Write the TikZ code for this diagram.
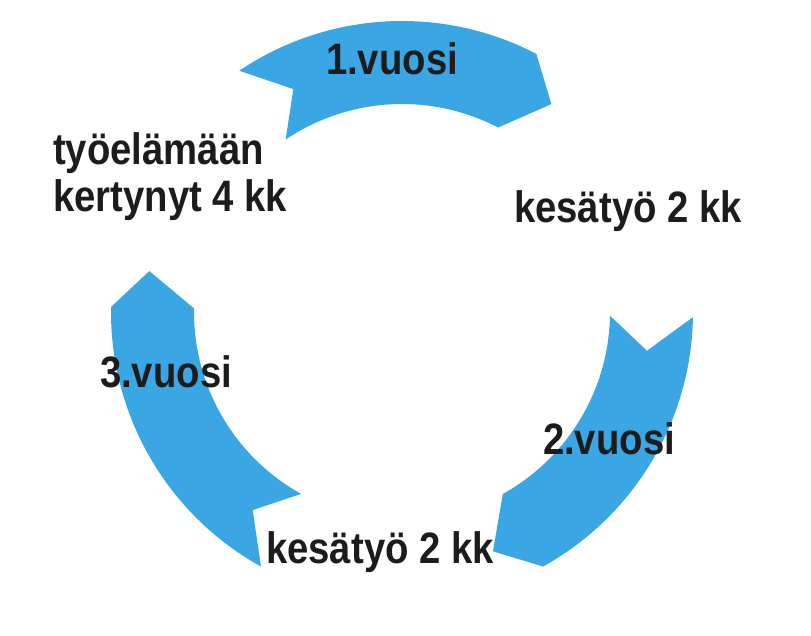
\documentclass[tikz,border=0pt]{standalone}
\usepackage{fontspec}
\newfontfamily\lblfont{Liberation Sans}[FakeStretch=0.87]
\usepackage{tikz}
\definecolor{cycleblue}{RGB}{58,167,228}
\definecolor{inkdark}{RGB}{28,28,28}

\begin{document}
\begin{tikzpicture}[x=1pt, y=1pt,
  every node/.style={font=\lblfont\bfseries\fontsize{44}{48}\selectfont, text=inkdark, inner sep=0pt},
  cyclearrow/.style={fill=cycleblue, draw=none}]
  \useasboundingbox (0,0) rectangle (811,635);

  % Arrows round the cycle (tail angle / head angle)
  \begin{scope}[shift={(402,323)}]
    \foreach \t/\h in {124/62.5, -1/-61, 241/179}
      \fill[cyclearrow] (\t:291) arc[start angle=\t, end angle=\h, radius=291]
        -- ({\h-8.2}:256) -- (\h:208)
        arc[start angle=\h, end angle=\t, radius=208]
        -- ({\t-8}:248) -- cycle;
  \end{scope}

  % Labels
  \node[anchor=base] (year1) at (392,560) {1.vuosi};
  \node[anchor=base] (summer1) at (628,412) {kesätyö 2 kk};
  \node[anchor=base] (year2) at (609,180) {2.vuosi};
  \node[anchor=base] (summer2) at (380,72) {kesätyö 2 kk};
  \node[anchor=base] (year3) at (166,247) {3.vuosi};
  \node[anchor=base west] (work1) at (53,470) {työelämään};
  \node[anchor=base west] (work2) at (53,423) {kertynyt 4 kk};
\end{tikzpicture}
\end{document}
